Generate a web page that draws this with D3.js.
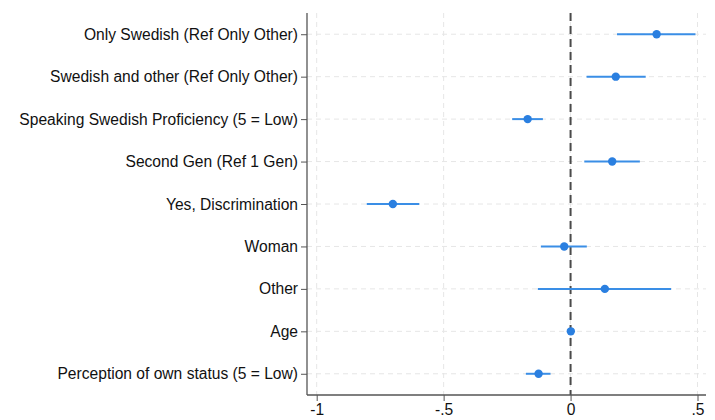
<!DOCTYPE html>
<html><head><meta charset="utf-8">
<script src="https://cdn.jsdelivr.net/npm/d3@7"></script>
<style>body{margin:0;background:#fff;} svg{display:block;}</style>
</head><body>
<script>
const categories = [
  "Only Swedish (Ref Only Other)",
  "Swedish and other (Ref Only Other)",
  "Speaking Swedish Proficiency (5 = Low)",
  "Second Gen (Ref 1 Gen)",
  "Yes, Discrimination",
  "Woman",
  "Other",
  "Age",
  "Perception of own status (5 = Low)"
];
const estimates = [0.339, 0.178, -0.169, 0.164, -0.700, -0.025, 0.135, 0.001, -0.126];
const ciLow  = [0.183, 0.063, -0.230, 0.054, -0.803, -0.117, -0.129, -0.005, -0.176];
const ciHigh = [0.492, 0.296, -0.109, 0.273, -0.596, 0.064, 0.396, 0.007, -0.079];
const xTicks = [-1, -0.5, 0, 0.5];
const xTickLabels = ["-1", "-.5", "0", ".5"];

const W = 715, H = 420;
const svg = d3.select("body").append("svg").attr("width", W).attr("height", H);
const axisX0 = 307, axisX1 = 706, axisYTop = 13, axisYBot = 395;

const x = d3.scaleLinear().domain([-1, 0.5]).range([316.7, 697.5]);
const y = d3.scalePoint().domain(categories).range([axisYTop, axisYBot]).padding(0.5);

const grid = svg.append("g");
grid.selectAll("line.v").data(xTicks).join("line")
  .attr("x1", d => x(d)).attr("x2", d => x(d))
  .attr("y1", axisYTop).attr("y2", axisYBot)
  .attr("stroke", "#e6e6e6").attr("stroke-width", 1).attr("stroke-dasharray", "5,4");
grid.selectAll("line.h").data(categories).join("line")
  .attr("x1", axisX0).attr("x2", axisX1)
  .attr("y1", d => y(d)).attr("y2", d => y(d))
  .attr("stroke", "#e6e6e6").attr("stroke-width", 1).attr("stroke-dasharray", "5,4");

// reference line at 0
svg.append("line")
  .attr("x1", x(0)).attr("x2", x(0)).attr("y1", axisYTop).attr("y2", axisYBot)
  .attr("stroke", "#4a4a4a").attr("stroke-width", 2).attr("stroke-dasharray", "8,5");

const rows = categories.map((c, i) => ({c, est: estimates[i], lo: ciLow[i], hi: ciHigh[i]}));
svg.append("g").selectAll("line").data(rows).join("line")
  .attr("x1", d => x(d.lo)).attr("x2", d => x(d.hi))
  .attr("y1", d => y(d.c)).attr("y2", d => y(d.c))
  .attr("stroke", "#3a8ee6").attr("stroke-width", 2);
svg.append("g").selectAll("circle").data(rows).join("circle")
  .attr("cx", d => x(d.est)).attr("cy", d => y(d.c)).attr("r", 4.2)
  .attr("fill", "#2a7fe0");

// axes
const font = "'Liberation Sans', Arial, Helvetica, sans-serif";
const yAxis = svg.append("g").attr("transform", `translate(${axisX0},0)`)
  .call(d3.axisLeft(y).tickSize(6).tickPadding(3));
yAxis.select(".domain").attr("d", `M0,${axisYTop}V${axisYBot}`).attr("stroke", "#555").attr("stroke-width", 1.3);
yAxis.selectAll(".tick line").attr("stroke", "#555");
yAxis.selectAll(".tick text").attr("font-family", font).attr("font-size", 15.6).attr("fill", "#111");

const xAxis = svg.append("g").attr("transform", `translate(0,${axisYBot})`)
  .call(d3.axisBottom(x).tickValues(xTicks).tickFormat((d, i) => xTickLabels[i]).tickSize(6).tickPadding(3));
xAxis.select(".domain").attr("d", `M${axisX0},0H${axisX1}`).attr("stroke", "#555").attr("stroke-width", 1.3);
xAxis.selectAll(".tick line").attr("stroke", "#555");
xAxis.selectAll(".tick text").attr("font-family", font).attr("font-size", 15.6).attr("fill", "#111");
</script>
</body></html>
